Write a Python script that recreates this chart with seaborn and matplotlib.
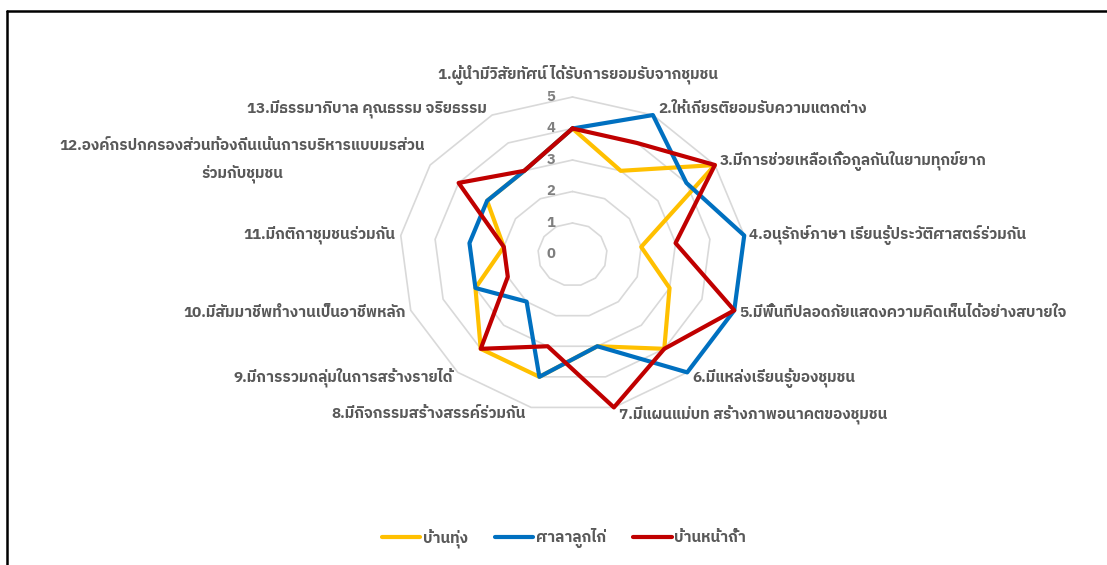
import matplotlib

matplotlib.use("Agg")
import matplotlib.pyplot as plt
import numpy as np
import pandas as pd
import seaborn as sns
from matplotlib import font_manager
from matplotlib.ft2font import FT2Font
from matplotlib.lines import Line2D

categories = [
    "1.ผู้นำมีวิสัยทัศน์ ได้รับการยอมรับจากชุมชน",
    "2.ให้เกียรติยอมรับความแตกต่าง",
    "3.มีการช่วยเหลือเกื้อกูลกันในยามทุกข์ยาก",
    "4.อนุรักษ์ภาษา เรียนรู้ประวัติศาสตร์ร่วมกัน",
    "5.มีพื้นที่ปลอดภัยแสดงความคิดเห็นได้อย่างสบายใจ",
    "6.มีแหล่งเรียนรู้ของชุมชน",
    "7.มีแผนแม่บท สร้างภาพอนาคตของชุมชน",
    "8.มีกิจกรรมสร้างสรรค์ร่วมกัน",
    "9.มีการรวมกลุ่มในการสร้างรายได้",
    "10.มีสัมมาชีพทำงานเป็นอาชีพหลัก",
    "11.มีกติกาชุมชนร่วมกัน",
    "12.องค์กรปกครองส่วนท้องถิ่นเน้นการบริหารแบบมรส่วน\nร่วมกับชุมชน",
    "13.มีธรรมาภิบาล คุณธรรม จริยธรรม",
]
series_names = ["บ้านทุ่ง", "ศาลาลูกไก่", "บ้านหน้าถ้ำ"]
ban_thung = [4, 3, 5, 2, 3, 4, 3, 4, 4, 3, 2, 3, 3]
sala_luk_kai = [4, 5, 4, 5, 5, 5, 3, 4, 2, 3, 3, 3, 3]
ban_na_tham = [4, 4, 5, 3, 5, 4, 5, 3, 4, 2, 2, 4, 3]
scale_ticks = [0, 1, 2, 3, 4, 5]
colors = ["#FFC000", "#0070C0", "#C00000"]

W, H = 1107, 565
CX, CY = 572.5, 254.5  # centre of the radar, pixels
SX, SY = 34.6, 31.5  # pixels per unit (chart is stretched sideways)
TEXT = "#595959"


def thai_family():
    found = []
    for f in font_manager.fontManager.ttflist:
        try:
            if 0x0E01 in FT2Font(f.fname).get_charmap():
                found.append(f.name)
        except Exception:
            continue
    found.sort(key=lambda n: ("Thai" not in n, "Looped" in n, n))
    return found[0] if found else "DejaVu Sans"


sns.set_style("white")
plt.rcParams["font.family"] = [thai_family(), "DejaVu Sans"]

n = len(categories)
angles = np.pi / 2 - 2 * np.pi * np.arange(n) / n
closed = list(range(n)) + [0]

rows = []
for name, values in zip(series_names, [ban_thung, sala_luk_kai, ban_na_tham]):
    for order, k in enumerate(closed):
        rows.append(
            {
                "series": name,
                "order": order,
                "x": values[k] * np.cos(angles[k]),
                "y": values[k] * np.sin(angles[k]),
            }
        )
df = pd.DataFrame(rows)

fig = plt.figure(figsize=(W / 100, H / 100), dpi=100)
ax = fig.add_axes([0, 0, 1, 1])
ax.set_xlim(-CX / SX, (W - CX) / SX)
ax.set_ylim(-(H - CY) / SY, CY / SY)
ax.axis("off")

# polygon gridlines
for level in scale_ticks[1:]:
    ax.plot(
        [level * np.cos(angles[k]) for k in closed],
        [level * np.sin(angles[k]) for k in closed],
        color="#d9d9d9",
        lw=1.2,
        zorder=1,
    )

for level in scale_ticks:
    ax.text(-21.5 / SX, level, str(level), ha="center", va="center",
            fontsize=10.5, fontweight="bold", color="#7f7f7f")

sns.lineplot(
    data=df,
    x="x",
    y="y",
    hue="series",
    hue_order=series_names,
    palette=colors,
    sort=False,
    estimator=None,
    lw=3,
    ax=ax,
    zorder=3,
)

top = max(scale_ticks)
for k, label in enumerate(categories):
    c, s = np.cos(angles[k]), np.sin(angles[k])
    if abs(c) < 1e-6:
        ha, off = "center", (5, 22)
    else:
        ha = "left" if c > 0 else "right"
        off = (5 * np.sign(c), 7 * s)
    ax.annotate(
        label,
        (top * c, top * s),
        xytext=off,
        textcoords="offset pixels",
        ha=ha,
        va="center",
        multialignment="center",
        linespacing=1.9,
        fontsize=11,
        fontweight="bold",
        color=TEXT,
    )

sns.move_legend(
    ax,
    "center",
    bbox_to_anchor=(564 / W, 1 - 538 / H),
    bbox_transform=fig.transFigure,
    ncol=3,
    frameon=False,
    title=None,
    fontsize=11,
    handlelength=2.5,
    handletextpad=0.15,
    columnspacing=1.8,
)
leg = ax.get_legend()
for line in leg.get_lines():
    line.set_linewidth(3)
for t in leg.get_texts():
    t.set_color(TEXT)
    t.set_fontweight("bold")

# chart frame (left and top edges)
fig.add_artist(Line2D([7 / W, 7 / W], [0, 1 - 10.5 / H], color="black", lw=1.8))
fig.add_artist(Line2D([7 / W, 1], [1 - 10.5 / H, 1 - 10.5 / H], color="black", lw=1.8))

fig.savefig("out.png", dpi=100)
